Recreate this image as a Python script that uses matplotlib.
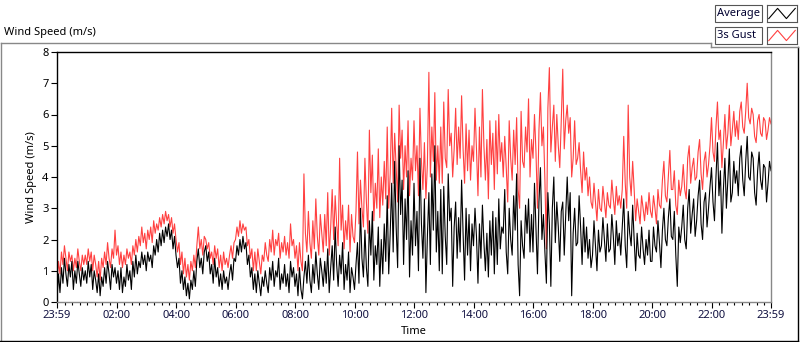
import numpy as np
import matplotlib
matplotlib.use('Agg')
import matplotlib.pyplot as plt
from matplotlib.lines import Line2D
from matplotlib.patches import Rectangle

# wind speed (m/s), one value every 3 minutes from 23:59 to 23:59 (one row per hour)
average = [
    0.1, 0.9, 0.3, 1.1, 0.6, 1.4, 0.9, 0.5, 1.2, 0.8, 1.3, 0.4, 1.0, 0.6, 1.3, 0.9, 0.5, 1.1, 0.7, 1.0,
    0.6, 1.3, 0.8, 1.2, 0.4, 1.0, 0.7, 0.3, 0.9, 0.2, 0.8, 0.5, 1.1, 0.6, 1.3, 0.9, 0.4, 1.2, 0.8, 1.1,
    0.6, 1.0, 0.4, 1.1, 0.3, 0.8, 0.5, 1.2, 0.7, 1.0, 0.4, 1.3, 0.8, 1.5, 0.9, 1.3, 1.1, 1.6, 1.2, 1.5,
    1.0, 1.6, 1.3, 1.5, 1.1, 1.8, 1.5, 2.0, 1.6, 2.2, 1.8, 2.3, 1.9, 2.4, 2.1, 2.5, 2.0, 2.3, 1.7, 2.1,
    1.5, 1.1, 1.4, 0.6, 1.0, 0.4, 0.8, 0.2, 0.6, 0.1, 0.7, 0.4, 1.0, 0.5, 1.3, 1.7, 1.1, 1.4, 0.9, 1.6,
    1.8, 1.3, 1.6, 0.9, 1.2, 0.6, 1.4, 0.8, 1.1, 0.5, 0.9, 0.4, 1.0, 0.6, 0.8, 0.4, 0.9, 1.2, 0.7, 1.4,
    1.3, 1.8, 1.5, 2.0, 1.6, 2.1, 1.7, 1.9, 1.2, 1.5, 0.8, 1.1, 0.4, 0.9, 0.3, 1.0, 0.6, 0.2, 0.8, 0.5,
    1.0, 0.6, 0.3, 1.1, 0.7, 1.3, 0.5, 1.0, 0.8, 1.4, 0.4, 0.9, 0.6, 1.2, 0.5, 0.9, 0.3, 1.3, 0.8, 1.1,
    0.5, 0.9, 0.2, 1.1, 0.4, 0.1, 0.8, 1.3, 0.6, 1.5, 0.7, 0.3, 1.2, 0.6, 1.6, 0.9, 0.4, 1.4, 1.0, 0.5,
    1.3, 0.6, 1.7, 0.3, 1.1, 1.8, 0.7, 2.4, 1.2, 0.5, 1.5, 0.9, 1.9, 0.4, 1.2, 0.7, 1.6, 0.3, 1.1, 0.8,
    0.4, 1.2, 1.9, 0.6, 3.0, 1.4, 0.8, 2.3, 1.1, 0.5, 2.6, 1.5, 2.9, 0.7, 1.8, 1.2, 2.4, 0.5, 2.0, 0.9,
    2.5, 1.3, 3.4, 0.9, 2.2, 3.8, 1.6, 4.5, 2.4, 1.1, 5.0, 2.8, 3.9, 1.2, 3.3, 2.0, 4.2, 0.8, 2.6, 1.5,
    3.8, 1.8, 2.9, 1.0, 4.6, 2.5, 1.4, 3.3, 0.3, 2.1, 3.5, 1.2, 4.1, 2.3, 5.0, 1.6, 2.9, 1.0, 3.6, 0.9,
    3.7, 2.1, 1.2, 4.1, 2.6, 3.0, 0.5, 2.4, 3.2, 1.4, 2.7, 1.6, 3.9, 2.2, 0.7, 3.0, 1.5, 2.8, 1.0, 2.5,
    1.8, 3.0, 2.1, 0.6, 2.5, 1.4, 3.1, 1.9, 1.0, 2.2, 0.8, 2.6, 1.5, 2.9, 0.9, 2.7, 1.2, 3.3, 1.7, 2.4,
    2.2, 3.6, 1.6, 0.9, 3.0, 2.0, 1.5, 3.4, 2.3, 4.1, 1.2, 0.2, 2.6, 1.8, 1.4, 3.1, 2.2, 3.3, 1.6, 2.8,
    1.6, 3.8, 2.4, 0.9, 3.2, 4.3, 2.0, 2.8, 1.6, 0.6, 3.5, 2.5, 0.5, 3.0, 4.0, 1.9, 3.2, 2.4, 1.3, 2.9,
    3.2, 1.5, 2.8, 4.0, 2.6, 3.5, 0.2, 2.2, 3.0, 1.8, 1.9, 3.4, 2.4, 1.2, 2.7, 1.6, 2.4, 1.4, 2.0, 1.1,
    1.5, 2.6, 1.8, 1.0, 2.3, 1.6, 1.8, 2.7, 2.0, 1.3, 2.5, 1.6, 1.7, 2.8, 2.1, 1.2, 2.6, 1.8, 2.2, 1.5,
    2.4, 3.3, 1.8, 1.1, 2.9, 2.2, 1.8, 3.1, 2.0, 1.0, 2.2, 1.5, 1.4, 2.4, 1.7, 1.2, 2.0, 1.5, 2.3, 1.3,
    1.3, 2.4, 1.8, 1.6, 2.6, 1.9, 1.1, 2.3, 3.0, 2.0, 1.8, 2.7, 3.3, 2.1, 2.0, 2.9, 1.5, 0.5, 2.4, 1.9,
    2.4, 3.1, 2.0, 1.7, 3.0, 3.6, 2.2, 2.8, 3.3, 2.1, 2.6, 3.4, 3.9, 2.5, 2.0, 3.2, 3.5, 2.4, 3.0, 3.7,
    4.3, 3.2, 2.6, 4.0, 5.1, 3.4, 4.2, 2.2, 3.6, 4.6, 3.0, 3.9, 4.9, 3.2, 3.5, 4.5, 3.8, 4.2, 3.4, 4.6,
    5.0, 3.9, 3.4, 4.5, 5.3, 4.0, 3.9, 4.8, 4.6, 3.5, 3.1, 4.2, 4.8, 3.9, 3.6, 4.4, 4.3, 3.2, 3.8, 4.5,
    4.2,
]
gust = [
    0.6, 1.3, 0.9, 1.6, 1.2, 1.8, 1.4, 1.0, 1.6, 1.3, 1.5, 1.0, 1.4, 1.1, 1.7, 1.3, 1.0, 1.5, 1.2, 1.5,
    1.2, 1.7, 1.3, 1.6, 1.0, 1.5, 1.2, 0.8, 1.3, 0.7, 1.4, 1.1, 1.6, 1.2, 1.9, 1.4, 1.1, 1.7, 1.4, 2.3,
    1.5, 1.8, 1.2, 1.6, 1.1, 1.5, 1.2, 1.7, 1.4, 1.6, 1.2, 1.8, 1.5, 2.0, 1.6, 2.1, 1.8, 2.4, 1.9, 2.2,
    1.7, 2.3, 2.0, 2.4, 1.9, 2.6, 2.2, 2.5, 2.3, 2.7, 2.4, 2.8, 2.5, 2.9, 2.6, 2.8, 2.4, 2.7, 2.2, 2.5,
    2.0, 1.6, 1.9, 1.2, 1.6, 0.9, 1.4, 0.8, 1.2, 0.7, 1.3, 1.0, 1.5, 1.1, 1.8, 2.4, 1.7, 2.0, 1.5, 2.1,
    2.0, 1.7, 1.9, 1.4, 1.6, 1.2, 1.8, 1.4, 1.7, 1.1, 1.5, 1.0, 1.6, 1.2, 1.4, 1.1, 1.5, 1.8, 1.4, 1.9,
    2.0, 2.4, 2.1, 2.6, 2.2, 2.5, 2.3, 2.4, 1.8, 2.0, 1.4, 1.7, 1.0, 1.6, 1.0, 1.7, 1.3, 0.9, 1.5, 1.3,
    1.9, 1.5, 1.3, 2.0, 1.6, 2.3, 1.5, 2.0, 1.8, 2.2, 1.4, 1.9, 1.6, 2.1, 1.5, 1.9, 1.4, 2.5, 1.8, 2.0,
    1.4, 1.8, 1.0, 1.9, 1.3, 1.0, 4.1, 2.2, 1.6, 2.9, 1.9, 1.4, 2.6, 1.7, 3.3, 2.1, 1.5, 2.8, 2.2, 1.6,
    2.8, 1.8, 3.5, 1.5, 2.4, 3.6, 2.0, 3.4, 2.5, 1.8, 4.6, 2.3, 3.1, 1.7, 2.6, 2.0, 3.1, 1.6, 2.8, 2.1,
    1.9, 2.9, 4.8, 2.5, 3.9, 3.0, 2.4, 4.6, 3.2, 2.2, 5.5, 3.5, 4.7, 2.6, 3.8, 3.0, 4.9, 2.7, 4.0, 3.1,
    4.5, 3.3, 5.6, 3.0, 4.1, 6.2, 3.8, 5.4, 4.3, 3.2, 6.3, 4.6, 5.5, 3.6, 5.0, 4.0, 5.8, 3.4, 4.6, 3.9,
    5.8, 4.2, 5.0, 3.4, 6.2, 4.5, 3.6, 5.1, 3.3, 4.4, 7.35, 4.0, 5.6, 4.5, 6.7, 3.9, 5.0, 3.8, 5.6, 3.8,
    6.4, 4.6, 4.3, 6.8, 5.0, 5.4, 4.0, 4.9, 6.2, 4.4, 5.6, 4.6, 6.6, 4.9, 3.8, 5.7, 4.2, 5.5, 3.9, 5.0,
    4.5, 6.2, 4.9, 3.4, 5.6, 4.0, 6.8, 5.0, 3.9, 5.2, 3.3, 5.8, 4.4, 5.4, 3.6, 5.8, 4.1, 6.0, 4.5, 5.1,
    4.0, 5.3, 4.3, 3.2, 5.8, 4.6, 3.9, 5.5, 4.4, 5.9, 3.6, 3.0, 6.1, 4.5, 4.3, 5.6, 4.8, 6.5, 4.0, 5.2,
    4.6, 6.0, 4.8, 3.0, 5.5, 6.7, 5.0, 5.6, 3.9, 1.7, 6.2, 7.5, 4.8, 5.6, 6.3, 4.5, 6.0, 5.0, 4.3, 5.8,
    7.45, 4.9, 5.8, 6.3, 5.4, 5.9, 4.0, 4.6, 5.8, 4.4, 4.6, 5.1, 4.2, 3.5, 4.8, 3.9, 4.3, 3.4, 4.0, 3.2,
    3.0, 3.8, 3.2, 2.6, 3.6, 3.0, 2.9, 3.7, 3.2, 2.7, 3.5, 3.1, 3.0, 3.9, 3.3, 2.8, 3.7, 3.1, 3.4, 3.0,
    3.6, 5.3, 3.8, 3.0, 6.3, 4.0, 3.4, 4.5, 3.6, 2.6, 3.3, 2.9, 2.5, 3.4, 3.0, 2.6, 3.2, 2.8, 3.5, 2.9,
    2.7, 3.4, 3.0, 2.5, 3.6, 3.1, 3.0, 3.9, 4.5, 3.4, 3.2, 4.0, 4.85, 3.6, 3.6, 4.2, 3.1, 2.8, 3.9, 3.4,
    3.7, 4.4, 3.6, 3.3, 4.6, 5.0, 3.8, 4.3, 4.6, 3.9, 4.0, 4.8, 5.2, 4.1, 3.6, 4.5, 4.8, 4.0, 4.4, 5.0,
    5.9, 4.8, 4.5, 5.6, 6.4, 5.2, 5.5, 4.3, 5.1, 6.0, 4.9, 5.4, 6.3, 5.0, 5.5, 6.1, 5.3, 5.8, 5.2, 6.1,
    6.4, 5.6, 5.4, 6.1, 7.0, 5.9, 5.7, 6.2, 6.0, 5.3, 5.1, 5.8, 6.0, 5.4, 5.3, 5.9, 5.8, 5.2, 5.5, 5.9,
    5.7,
]
minutes = np.arange(0, 1441, 3)

tick_minutes = [0, 121, 241, 361, 481, 601, 721, 841, 961, 1081, 1201, 1321, 1440]
tick_labels = ['23:59', '02:00', '04:00', '06:00', '08:00', '10:00', '12:00',
               '14:00', '16:00', '18:00', '20:00', '22:00', '23:59']
minor_minutes = np.arange(16, 1440, 15)

FONT = 'Noto Sans'
RED = '#ff4040'
W, H = 800, 342

plt.rcParams['font.family'] = [FONT, 'DejaVu Sans']
fig = plt.figure(figsize=(W / 100, H / 100), dpi=100)

def fx(px):
    return px / W

def fy(py):
    return 1 - py / H

ax = fig.add_axes([fx(57), fy(302), fx(771 - 57), fy(52) - fy(302)])
ax.plot(minutes, gust, color=RED, lw=0.8)
ax.plot(minutes, average, color='black', lw=0.8)

ax.set_xlim(0, 1440)
ax.set_ylim(0, 8)
ax.set_yticks(range(0, 9))
ax.set_xticks(tick_minutes)
ax.set_xticklabels(tick_labels, color='#101040')
ax.set_xticks(minor_minutes, minor=True)
ax.tick_params(axis='both', which='major', labelsize=8, length=4, width=0.8, pad=2)
ax.tick_params(axis='x', which='minor', length=2.5, width=0.8)
ax.set_xlabel('Time', fontsize=8, labelpad=0)
ax.set_ylabel('Wind Speed (m/s)', fontsize=8, labelpad=4)
ax.xaxis.set_label_coords(0.5, -0.098)
ax.spines['left'].set_color('black')
ax.spines['top'].set_color('black')
ax.spines['right'].set_color('#888888')
ax.spines['bottom'].set_color('#888888')
for s in ax.spines.values():
    s.set_linewidth(1.0)

# graph frame
fig.add_artist(Line2D([fx(0.5), fx(711)], [fy(43), fy(43)], color='#888888', lw=1))
fig.add_artist(Line2D([fx(0.5), fx(0.5)], [fy(43), fy(341)], color='#888888', lw=1))
fig.add_artist(Line2D([fx(0), fx(798)], [fy(341), fy(341)], color='black', lw=1))
fig.add_artist(Line2D([fx(798), fx(798)], [fy(47), fy(341)], color='black', lw=1))
fig.add_artist(Line2D([fx(711), fx(711)], [fy(43), fy(47)], color='#888888', lw=1))
fig.add_artist(Line2D([fx(711), fx(798)], [fy(47), fy(47)], color='#888888', lw=1))
fig.text(fx(4), fy(32), 'Wind Speed (m/s)', fontsize=8, va='center', ha='left')

# legend
legend_names = ['Average', '3s Gust']
legend_colors = ['black', RED]
for i, (name, color) in enumerate(zip(legend_names, legend_colors)):
    top = 5 + i * 22
    fig.add_artist(Rectangle((fx(715), fy(top + 17)), fx(47), fy(0) - fy(17),
                             facecolor='white', edgecolor='#555555', lw=0.8))
    fig.text(fx(717), fy(top + 8.5), name, fontsize=8, va='center', ha='left',
             color='#000030')
    lax = fig.add_axes([fx(767), fy(top + 17), fx(30), fy(0) - fy(17)])
    lax.plot([0, 1, 2, 3], [0.2, 0.8, 0.2, 0.8], color=color, lw=0.8)
    lax.set_xlim(-0.2, 3.2)
    lax.set_ylim(0, 1)
    lax.set_xticks([])
    lax.set_yticks([])
    for s in lax.spines.values():
        s.set_color('#555555')
        s.set_linewidth(0.8)

fig.savefig('out.png', dpi=100)
